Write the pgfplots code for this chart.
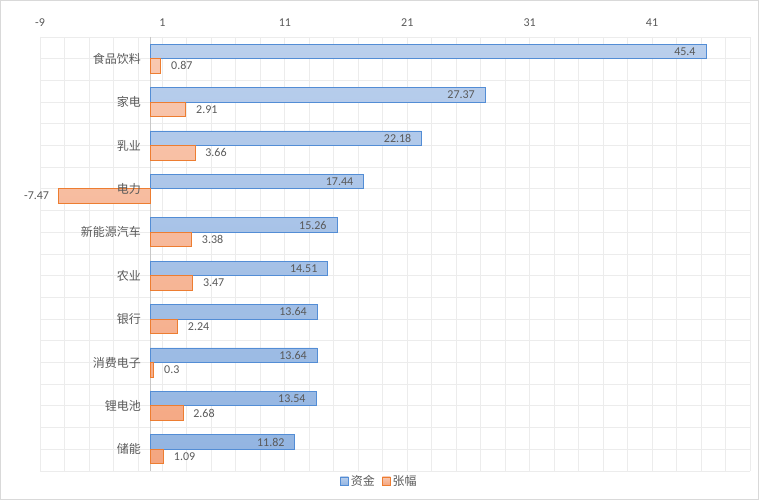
\documentclass[border=0pt]{standalone}
\usepackage{pgfplots}
\pgfplotsset{compat=1.18}
\usepackage{fontspec}
\setmainfont{Carlito}
\newfontfamily\cjk{Noto Sans CJK SC}
\definecolor{txt}{RGB}{89,89,89}
\definecolor{gridc}{RGB}{236,236,236}
\definecolor{zeroc}{RGB}{200,200,200}
\definecolor{blueE}{RGB}{83,141,213}
\definecolor{blueT}{RGB}{186,207,236}
\definecolor{blueB}{RGB}{147,181,226}
\definecolor{orE}{RGB}{237,125,49}
\definecolor{orT}{RGB}{249,200,176}
\definecolor{orB}{RGB}{244,166,128}
\definecolor{framec}{RGB}{217,217,217}
\begin{document}
\begin{tikzpicture}[x=1pt,y=1pt]
\draw[framec, line width=1pt] (0.5,0.5) rectangle (758.5,499.5);
\begin{axis}[
  set layers,
  at={(40pt,29pt)}, anchor=south west,
  scale only axis, width=710pt, height=434pt,
  xmin=-9, xmax=49, ymin=-0.5, ymax=9.5, y dir=reverse,
  xbar, bar width=14.5pt,
  axis line style={draw=none},
  xtick={-9,1,11,21,31,41}, xticklabels={-9,1,11,21,31,41},
  minor xtick={-9,-7,...,49},
  ytick={0,...,9},
  yticklabels={食品饮料,家电,乳业,电力,新能源汽车,农业,银行,消费电子,锂电池,储能},
  minor ytick={-0.5,0.5,...,9.5},
  major tick length=0pt, minor tick length=0pt,
  grid=both,
  major grid style={gridc, line width=0.8pt},
  minor grid style={gridc, line width=0.8pt},
  extra x ticks={0}, extra x tick labels={},
  extra x tick style={grid=major, major grid style={zeroc, line width=0.8pt}},
  xticklabel pos=upper,
  xticklabel style={font=\fontsize{12}{14}\selectfont, text=txt, anchor=south, inner sep=0pt, yshift=10pt},
  yticklabel style={font=\cjk\fontsize{12}{14}\selectfont, text=txt, anchor=east, inner sep=0pt, xshift=101pt},
  legend style={at={(0.478,-0.023)}, anchor=center, draw=none, fill=none,
    font=\cjk\fontsize{12}{14}\selectfont, text=txt, legend columns=2,
    /tikz/every even column/.append style={column sep=5pt}, inner sep=0pt},
  legend cell align=left,
  legend image code/.code={\draw[#1] (0pt,-4pt) rectangle (8pt,4pt);},
  point meta=explicit symbolic,
]
\addplot[on layer=axis ticks, draw=blueE, top color=blueT, bottom color=blueB, line width=0.8pt, bar shift=7.25pt,
  nodes near coords,
  every node near coord/.append style={anchor=east, xshift=-10pt, inner sep=0pt, font=\fontsize{12}{14}\selectfont, text=txt}]
coordinates {
(45.4,0) [45.4]
(27.37,1) [27.37]
(22.18,2) [22.18]
(17.44,3) [17.44]
(15.26,4) [15.26]
(14.51,5) [14.51]
(13.64,6) [13.64]
(13.64,7) [13.64]
(13.54,8) [13.54]
(11.82,9) [11.82]
};
\addlegendentry{资金}
\addplot[on layer=axis ticks, draw=orE, top color=orT, bottom color=orB, line width=0.8pt, bar shift=-7.25pt,
  nodes near coords,
  every node near coord/.append style={anchor=west, inner xsep=10pt, inner ysep=0pt, font=\fontsize{12}{14}\selectfont, text=txt},
  coordinate style/.condition={\coordindex==3}{xshift=-45pt}]
coordinates {
(0.87,0) [0.87]
(2.91,1) [2.91]
(3.66,2) [3.66]
(-7.47,3) [-7.47]
(3.38,4) [3.38]
(3.47,5) [3.47]
(2.24,6) [2.24]
(0.3,7) [0.3]
(2.68,8) [2.68]
(1.09,9) [1.09]
};
\addlegendentry{张幅}
\end{axis}
\end{tikzpicture}
\end{document}
